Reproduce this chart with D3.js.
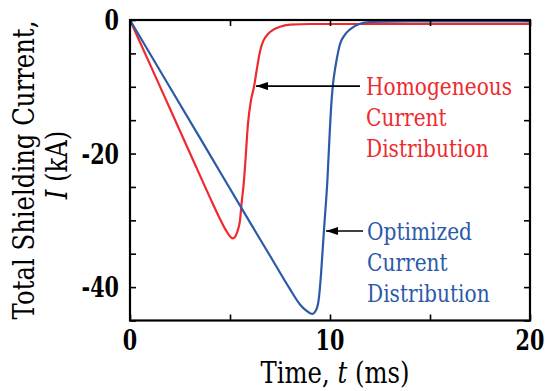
<!DOCTYPE html>
<html><head><meta charset="utf-8">
<script src="https://cdn.jsdelivr.net/npm/d3@7"></script>
<style>body{margin:0;background:#fff}svg{display:block}svg text{font-family:'DejaVu Serif',serif}</style>
</head><body><div id="chart"></div>
<script>
// Time (ms) and total shielding current (kA)
const homogeneousT = [0,1,2,3,4,4.5,4.8,5.0,5.12,5.25,5.33,5.42,5.5,5.58,5.67,5.75,5.9,6.05,6.2,6.33,6.5,6.67,6.9,7.17,7.5,8,9,10,12,20];
const homogeneousI = [0,-6.65,-13.3,-19.95,-26.6,-29.8,-31.5,-32.4,-32.7,-32.5,-32.0,-31.2,-30.0,-27.4,-25.0,-22.0,-15.5,-12.0,-10.0,-7.6,-4.7,-3.1,-2.1,-1.45,-1.0,-0.7,-0.6,-0.6,-0.6,-0.6];
const optimizedT = [0,2,4,6,7,8,8.5,8.8,9.0,9.13,9.25,9.35,9.42,9.53,9.62,9.7,9.87,10.0,10.08,10.15,10.25,10.33,10.5,10.75,11,11.5,12,14,20];
const optimizedI = [0,-10.1,-20.2,-30.3,-35.3,-40.3,-42.6,-43.5,-43.9,-44.0,-43.7,-43.1,-42.2,-38.9,-35.0,-31.4,-24.0,-16.0,-12.0,-9.6,-7.4,-6.0,-3.6,-2.2,-1.4,-0.55,-0.3,-0.2,-0.2];
const xTickLabels = [0,10,20];
const yTickLabels = [0,-20,-40];
const seriesNames = ["Homogeneous\nCurrent\nDistribution","Optimized\nCurrent\nDistribution"];
const seriesColors = ["#ee2a2e","#2a5aa8"];

const W=545,H=391;
const svg=d3.select("#chart").append("svg").attr("width",W).attr("height",H);
const x=d3.scaleLinear().domain([0,20]).range([130,530]);
const y=d3.scaleLinear().domain([-45,0]).range([320.5,20]);

// lines
const line=d3.line().x(d=>x(d[0])).y(d=>y(d[1])).curve(d3.curveMonotoneX);
const series=[d3.zip(homogeneousT,homogeneousI), d3.zip(optimizedT,optimizedI)];
const g=svg.append("g");
g.append("path").datum(series[0]).attr("d",line).attr("fill","none").attr("stroke",seriesColors[0]).attr("stroke-width",2.2);
g.append("path").datum(series[1]).attr("d",line).attr("fill","none").attr("stroke",seriesColors[1]).attr("stroke-width",2.2);

// axes with inward ticks
const xt=d3.range(0,20.01,5), yt=d3.range(-45,0.01,5);
function styleAxis(sel){sel.select(".domain").remove();sel.selectAll("line").attr("stroke","#000").attr("stroke-width",1.6);sel.selectAll("text").remove();}
svg.append("g").attr("transform",`translate(0,${y(-45)})`).call(d3.axisBottom(x).tickValues(xt).tickSizeInner(-6).tickSizeOuter(0)).call(styleAxis);
svg.append("g").attr("transform",`translate(0,${y(0)})`).call(d3.axisTop(x).tickValues(xt).tickSizeInner(-6).tickSizeOuter(0)).call(styleAxis);
svg.append("g").attr("transform",`translate(${x(0)},0)`).call(d3.axisLeft(y).tickValues(yt).tickSizeInner(-6).tickSizeOuter(0)).call(styleAxis);
svg.append("g").attr("transform",`translate(${x(20)},0)`).call(d3.axisRight(y).tickValues(yt).tickSizeInner(-6).tickSizeOuter(0)).call(styleAxis);
svg.append("rect").attr("x",x(0)).attr("y",y(0)).attr("width",x(20)-x(0)).attr("height",y(-45)-y(0))
  .attr("fill","none").attr("stroke","#000").attr("stroke-width",2.2);

// condensed text helper (scales glyphs horizontally to Times-like proportions)
function label(px,py,rot,sx,size,anchor){
  return svg.append("text").attr("transform",`translate(${px},${py}) rotate(${rot}) scale(${sx},1)`)
    .attr("text-anchor",anchor).attr("font-size",size);
}

// tick labels
xTickLabels.forEach(d=>label(x(d),350,0,0.74,28,"middle").attr("font-weight","bold").text(d));
yTickLabels.forEach(d=>label(119,y(d)+10,0,0.74,28,"end").attr("font-weight","bold").text(d));

// axis titles
const xl=label(335,383,0,0.84,29,"middle");
xl.append("tspan").text("Time, ");
xl.append("tspan").attr("font-style","italic").text("t");
xl.append("tspan").text(" (ms)");
label(34,170,-90,0.84,29,"middle").text("Total Shielding Current,");
const yl2=label(67,165,-90,0.84,29,"middle");
yl2.append("tspan").attr("font-style","italic").text("I");
yl2.append("tspan").text(" (kA)");

// annotations
const defs=svg.append("defs");
defs.append("marker").attr("id","ah").attr("viewBox","0 0 12 8").attr("refX",12).attr("refY",4)
  .attr("markerWidth",12).attr("markerHeight",8).attr("markerUnits","userSpaceOnUse").attr("orient","auto")
  .append("path").attr("d","M0,0L12,4L0,8Z").attr("fill","#000");
const ann=[{tip:[6.3,-9.9],from:11.5,tx:11.8,ty:-11.2,c:seriesColors[0],txt:seriesNames[0]},
           {tip:[9.8,-31.6],from:11.65,tx:11.85,ty:-32.9,c:seriesColors[1],txt:seriesNames[1]}];
ann.forEach(a=>{
  svg.append("line").attr("x1",x(a.from)).attr("x2",x(a.tip[0])).attr("y1",y(a.tip[1])).attr("y2",y(a.tip[1]))
    .attr("stroke","#000").attr("stroke-width",1.6).attr("marker-end","url(#ah)");
  a.txt.split("\n").forEach((s,i)=>label(x(a.tx),y(a.ty)+i*31,0,0.84,24,"start").attr("fill",a.c).text(s));
});
</script></body></html>
